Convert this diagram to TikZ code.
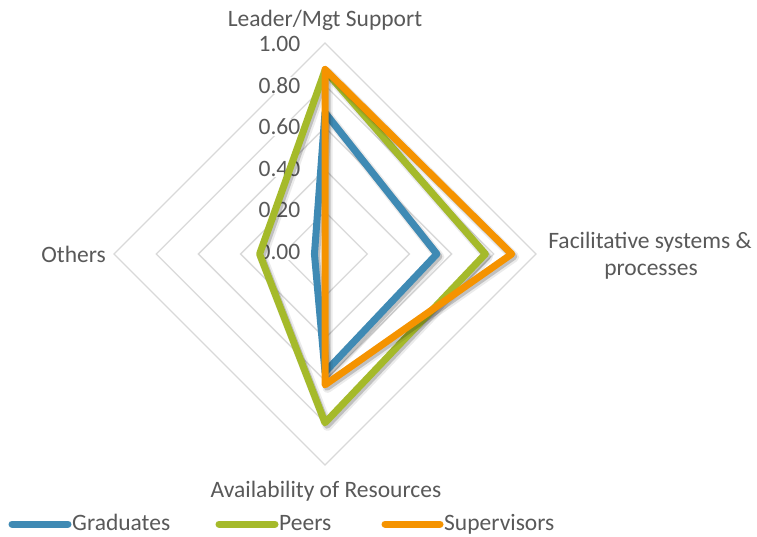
\documentclass[tikz,border=0pt]{standalone}
\usepackage{fontspec}
\setmainfont{Carlito}
\definecolor{gradc}{HTML}{3F8AB4}
\definecolor{peerc}{HTML}{A5BA2A}
\definecolor{supc}{HTML}{F59300}
\definecolor{txt}{HTML}{595959}
\definecolor{gridc}{HTML}{D9D9D9}
\newcommand\radarpath[4]{(325,{254-211*#1}) -- ({325+211*#2},254) -- (325,{254+211*#3}) -- ({325-211*#4},254) -- cycle}
\begin{document}
\begin{tikzpicture}[x=1pt,y=-1pt,
  gridline/.style={draw=gridc, line width=1.3pt},
  tick/.style={anchor=mid east, text=txt, font=\fontsize{23.5}{28}\selectfont, fill=white, inner sep=0.5pt},
  cat/.style={text=txt, font=\fontsize{23.5}{28}\selectfont, inner sep=0pt},
  series/.style={line width=7pt, line join=round, line cap=round},
  shadowA/.style={line width=10pt, draw=black, opacity=0.08, line join=round, xshift=2.5pt, yshift=-3pt},
  shadowB/.style={line width=7pt, draw=black, opacity=0.18, line join=round, xshift=2pt, yshift=-2.5pt},
  legline/.style={line width=7pt, line cap=round}]
\useasboundingbox[fill=white] (0,0) rectangle (757,537);
% grid
\foreach \v in {0.2,0.4,0.6,0.8,1.0}{
  \draw[gridline] \radarpath{\v}{\v}{\v}{\v};
}
% tick labels
\foreach \v/\t in {0/0.00,0.2/0.20,0.4/0.40,0.6/0.60,0.8/0.80,1/1.00}{
  \node[tick] at (301,{257-207.5*\v}) {\t};
}
% category labels
\node[cat, anchor=base] (lead) at (325,27) {Leader/Mgt Support};
\node[cat, anchor=base east] (oth) at (106,262) {Others};
\node[cat, anchor=base] (fac1) at (650,248) {Facilitative systems \&};
\node[cat, anchor=base] (fac2) at (651,275) {processes};
\node[cat, anchor=base] (avail) at (326,497) {Availability of Resources};
% series
\draw[shadowA] \radarpath{0.67}{0.53}{0.56}{0.05};
\draw[shadowB] \radarpath{0.67}{0.53}{0.56}{0.05};
\draw[series, draw=gradc] \radarpath{0.67}{0.53}{0.56}{0.05};
\draw[shadowA] \radarpath{0.87}{0.76}{0.80}{0.31};
\draw[shadowB] \radarpath{0.87}{0.76}{0.80}{0.31};
\draw[series, draw=peerc] \radarpath{0.87}{0.76}{0.80}{0.31};
\draw[shadowA] \radarpath{0.875}{0.885}{0.62}{0.0};
\draw[shadowB] \radarpath{0.875}{0.885}{0.62}{0.0};
\draw[series, draw=supc] \radarpath{0.875}{0.885}{0.62}{0.0};
% legend
\coordinate (g1) at (12,524); \coordinate (g2) at (68,524);
\coordinate (p1) at (219,524); \coordinate (p2) at (275,524);
\coordinate (s1) at (385,524); \coordinate (s2) at (440,524);
\draw[legline, draw=gradc] (g1) -- (g2);
\draw[legline, draw=peerc] (p1) -- (p2);
\draw[legline, draw=supc] (s1) -- (s2);
\node[cat, anchor=base west] (lg) at (72,530) {Graduates};
\node[cat, anchor=base west] (lp) at (279,530) {Peers};
\node[cat, anchor=base west] (ls) at (444,530) {Supervisors};
\end{tikzpicture}
\end{document}
